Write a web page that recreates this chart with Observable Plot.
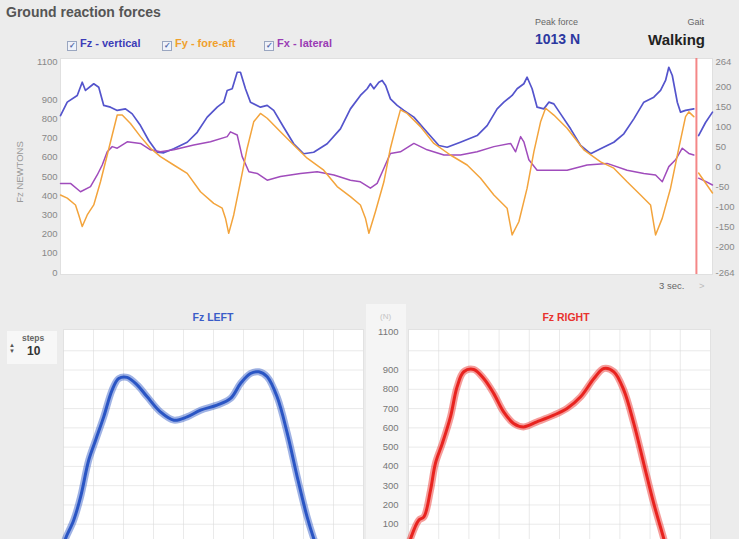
<!DOCTYPE html>
<html><head><meta charset="utf-8">
<script src="https://cdn.jsdelivr.net/npm/d3@7"></script>
<script src="https://cdn.jsdelivr.net/npm/@observablehq/plot@0.6"></script>
<style>
html,body{margin:0;padding:0;}
body{width:739px;height:539px;overflow:hidden;background:#ececec;position:relative;font-family:"Liberation Sans",Arial,sans-serif;}
.abs{position:absolute;white-space:nowrap;}
.layer{position:absolute;left:0;top:0;}
.cb{display:inline-block;width:8px;height:8px;border:1px solid #9aa6c0;background:#eef2fa;font-size:8px;line-height:8px;text-align:center;color:#5068a8;margin-right:3px;vertical-align:-1px;}
</style></head><body>
<div class="abs" style="left:366px;top:304px;width:40px;height:240px;background:#f5f5f5;"></div>
<div id="topA" class="layer"></div>
<div id="topB" class="layer"></div>
<div id="botL" class="layer" style="top:300px;"></div>
<div id="botR" class="layer" style="left:360px;top:300px;"></div>

<div class="abs" style="left:6px;top:4px;font-weight:bold;font-size:14px;color:#555;">Ground reaction forces</div>
<div class="abs" style="left:535px;top:17px;font-size:9px;color:#666;">Peak force</div>
<div class="abs" style="left:535px;top:31px;font-weight:bold;font-size:14px;color:#2c38a0;">1013 N</div>
<div class="abs" style="right:35px;top:17px;font-size:9px;color:#666;text-align:right;">Gait</div>
<div class="abs" style="right:34px;top:31px;font-weight:bold;font-size:15px;color:#222;text-align:right;">Walking</div>

<div class="abs" style="left:67px;top:37px;font-weight:bold;font-size:11px;color:#3c3cb8;"><span class="cb">✓</span>Fz - vertical</div>
<div class="abs" style="left:162px;top:37px;font-weight:bold;font-size:11px;color:#f0a02c;"><span class="cb">✓</span>Fy - fore-aft</div>
<div class="abs" style="left:264px;top:37px;font-weight:bold;font-size:11px;color:#9a3cb4;"><span class="cb">✓</span>Fx - lateral</div>

<div class="abs" style="left:19px;top:172px;font-size:9.5px;color:#999;transform:translate(-50%,-50%) rotate(-90deg);">Fz NEWTONS</div>
<div class="abs" style="left:659px;top:280px;font-size:9.5px;color:#666;">3 sec.</div>
<div class="abs" style="left:699px;top:280px;font-size:9.5px;color:#bbb;">&gt;</div>

<div class="abs" style="left:213px;top:311px;transform:translateX(-50%);font-weight:bold;font-size:10.5px;color:#3a5cc8;">Fz LEFT</div>
<div class="abs" style="left:566px;top:311px;transform:translateX(-50%);font-weight:bold;font-size:10.5px;color:#e8322e;">Fz RIGHT</div>
<div class="abs" style="left:380px;top:312px;font-size:8px;color:#c4c4c4;">(N)</div>

<div class="abs" style="left:7px;top:331px;width:50px;height:33px;background:#f7f7f7;"></div>
<div class="abs" style="left:22px;top:333px;font-size:8.5px;font-weight:bold;color:#666;">steps</div>
<div class="abs" style="left:27px;top:344px;font-size:12px;font-weight:bold;color:#333;">10</div>
<div class="abs" style="left:9px;top:342px;font-size:6px;line-height:6px;color:#555;">▲<br>▼</div>

<script>
// ---------- top chart: time in seconds ----------
const fzTime = [0,0.031,0.077,0.100,0.115,0.153,0.176,0.199,0.230,0.261,0.299,0.330,0.368,0.406,0.445,0.475,0.521,0.583,0.629,0.675,0.721,0.751,0.767,0.790,0.813,0.828,0.851,0.874,0.920,0.951,0.981,1.027,1.073,1.119,1.165,1.227,1.288,1.334,1.380,1.411,1.426,1.442,1.465,1.480,1.496,1.518,1.549,1.580,1.626,1.687,1.741,1.779,1.840,1.917,1.963,2.009,2.040,2.078,2.101,2.132,2.147,2.170,2.193,2.224,2.247,2.270,2.301,2.347,2.393,2.439,2.485,2.546,2.592,2.638,2.684,2.730,2.761,2.784,2.799,2.815,2.838,2.853,2.876,2.914];
const fzValue = [818,888,923,992,949,984,966,871,862,845,853,827,766,688,627,624,645,679,731,810,862,888,949,958,1044,1044,958,888,862,871,845,757,671,619,627,671,749,853,923,958,984,958,992,1001,975,905,871,845,810,731,662,653,679,714,766,853,888,923,958,984,1018,958,862,853,888,879,827,749,662,619,645,679,723,801,888,914,949,1001,1070,1027,888,836,845,853];

const fyTime = [0,0.031,0.069,0.084,0.100,0.123,0.153,0.184,0.215,0.238,0.261,0.284,0.322,0.368,0.414,0.460,0.521,0.583,0.644,0.705,0.744,0.759,0.774,0.797,0.828,0.859,0.889,0.920,0.951,1.012,1.073,1.135,1.211,1.273,1.334,1.380,1.403,1.419,1.449,1.488,1.518,1.549,1.564,1.595,1.656,1.718,1.794,1.871,1.933,1.994,2.055,2.078,2.109,2.147,2.178,2.209,2.232,2.270,2.331,2.408,2.485,2.546,2.607,2.669,2.715,2.738,2.769,2.807,2.845,2.876,2.891,2.914];
const fyValue = [-70,-78,-95,-120,-149,-120,-95,-37,30,80,130,130,109,76,47,26,5,-16,-62,-91,-103,-128,-166,-120,-37,47,113,134,122,88,55,22,-8,-49,-74,-95,-128,-166,-112,-37,47,113,143,134,101,59,30,5,-28,-70,-103,-170,-137,-53,38,113,147,130,97,43,13,-3,-37,-70,-95,-170,-128,-53,47,126,138,126];

const fxTime = [0,0.046,0.092,0.138,0.169,0.192,0.215,0.238,0.261,0.307,0.368,0.414,0.460,0.521,0.613,0.690,0.767,0.782,0.813,0.836,0.867,0.905,0.951,1.012,1.104,1.181,1.258,1.334,1.380,1.426,1.457,1.488,1.518,1.564,1.626,1.687,1.764,1.840,1.917,1.994,2.071,2.094,2.117,2.132,2.155,2.193,2.255,2.331,2.423,2.515,2.607,2.684,2.738,2.769,2.799,2.830,2.861,2.891,2.914];
const fxValue = [-41,-41,-62,-49,-20,5,38,51,47,63,59,43,38,43,55,63,76,88,80,26,-12,-16,-33,-24,-16,-12,-20,-33,-37,-53,-41,-3,34,38,59,43,30,30,38,51,59,38,76,63,18,-8,-8,-8,5,9,-8,-16,-20,-37,1,18,47,34,30];

// older data visible after the sweep cursor
const tailTime = [2.936,2.968,3.0];
const fzTail = [714,782,836];
const fyTail = [-15,-40,-65];
const fxTail = [-28,-36,-45];
const cursorTime = [2.926];

const leftTicks = [0,100,200,300,400,500,600,700,800,900,1100];
const rightTicks = [-264,-200,-150,-100,-50,0,50,100,150,200,264];

// ---------- bottom charts: % of step, Fz in N (mean of the 10 steps) ----------
const leftPct = [0.3,0.7,3.4,5.7,8.4,10.7,13.4,16.2,18.4,21.2,24.6,27.9,32.3,36.8,41.2,45.7,51.2,55.7,59.0,62.3,65.1,67.9,71.2,74.6,77.9,81.2,83.4,84.0];
const leftFz = [0,26,121,242,432,536,657,796,856,862,822,761,683,640,657,692,718,753,830,882,891,865,761,571,346,138,26,0];
const rightPct = [0.2,0.7,3.4,5.1,7.3,8.9,11.2,13.9,16.1,18.3,21.6,24.9,28.2,31.5,34.8,38.1,42.5,48.1,52.5,57.0,61.4,64.7,68.0,71.3,74.6,77.9,81.2,84.5,84.9];
const rightFz = [0,26,121,138,277,415,519,657,813,891,903,856,779,683,623,605,631,666,701,761,856,908,891,796,623,415,208,26,0];
const stepTicks = [100,200,300,400,500,600,700,800,900,1100];
const gridPct = [10,20,30,40,50,60,70,80,90];
const gridN = [100,200,300,400,500,600,700,800,900,1000];

const rows = (ts, vs, seg) => ts.map((t, i) => ({t, v: vs[i], seg})).filter(d => d.v !== undefined);
const fzRows = rows(fzTime, fzValue, "live").concat(rows(tailTime, fzTail, "tail"));
const fyRows = rows(fyTime, fyValue, "live").concat(rows(tailTime, fyTail, "tail"));
const fxRows = rows(fxTime, fxValue, "live").concat(rows(tailTime, fxTail, "tail"));

const font = "Liberation Sans, Arial, sans-serif";
const geom = {width: 739, height: 290, marginLeft: 60, marginRight: 27, marginTop: 58, marginBottom: 16, insetTop: 3, insetBottom: 2};

const plotA = Plot.plot({
  ...geom,
  style: {background: "transparent", fontFamily: font, fontSize: "9.5px", color: "#888", overflow: "visible"},
  x: {domain: [0, 3], axis: null},
  y: {domain: [0, 1100], axis: null},
  marks: [
    Plot.frame({fill: "white", stroke: "#e0e0e0"}),
    Plot.axisY({ticks: leftTicks, tickSize: 0, tickPadding: 3, label: null, tickFormat: d => String(d)}),
    Plot.lineY(fzRows, {x: "t", y: "v", z: "seg", stroke: "#5454cc", strokeWidth: 1.7})
  ]
});
document.getElementById("topA").append(plotA);

const plotB = Plot.plot({
  ...geom,
  style: {background: "transparent", fontFamily: font, fontSize: "9.5px", color: "#888", overflow: "visible"},
  x: {domain: [0, 3], axis: null},
  y: {domain: [-264, 264], axis: null},
  marks: [
    Plot.axisY({anchor: "right", ticks: rightTicks, tickSize: 0, tickPadding: 3, label: null, tickFormat: d => String(d)}),
    Plot.lineY(fxRows, {x: "t", y: "v", z: "seg", stroke: "#a04cbc", strokeWidth: 1.5}),
    Plot.lineY(fyRows, {x: "t", y: "v", z: "seg", stroke: "#f3a43c", strokeWidth: 1.5}),
    Plot.ruleX(cursorTime, {stroke: "#f27272", strokeWidth: 2, strokeOpacity: 0.85})
  ]
});
document.getElementById("topB").append(plotB);

const stepGeom = {height: 260, marginTop: 29, marginBottom: 17, insetTop: 2};
const leftRows = rows(leftPct, leftFz, "L");
const rightRows = rows(rightPct, rightFz, "R");

function stepMarks(data, color) {
  return [
    Plot.frame({fill: "white", stroke: "#e2e2e2"}),
    Plot.gridX(gridPct, {stroke: "#dcdcdc", strokeOpacity: 0.6}),
    Plot.gridY(gridN, {stroke: "#dcdcdc", strokeOpacity: 0.6}),
    Plot.lineY(data, {x: "t", y: "v", stroke: color, strokeWidth: 7, strokeOpacity: 0.45, curve: "catmull-rom"}),
    Plot.lineY(data, {x: "t", y: "v", stroke: color, strokeWidth: 3, curve: "catmull-rom"})
  ];
}

const plotL = Plot.plot({
  ...stepGeom, width: 380, marginLeft: 63, marginRight: 17,
  style: {background: "transparent", fontFamily: font, fontSize: "9.5px", color: "#777"},
  x: {domain: [0, 100], axis: null},
  y: {domain: [0, 1100], axis: null},
  marks: stepMarks(leftRows, "#2a55c4")
});
document.getElementById("botL").append(plotL);

const plotR = Plot.plot({
  ...stepGeom, width: 379, marginLeft: 48, marginRight: 29,
  style: {background: "transparent", fontFamily: font, fontSize: "9.5px", color: "#777", overflow: "visible"},
  x: {domain: [0, 100], axis: null},
  y: {domain: [0, 1100], axis: null},
  marks: [
    ...stepMarks(rightRows, "#e8231f"),
    Plot.axisY({ticks: stepTicks, tickSize: 0, tickPadding: 10, label: null, tickFormat: d => String(d)})
  ]
});
document.getElementById("botR").append(plotR);
</script>
</body></html>
